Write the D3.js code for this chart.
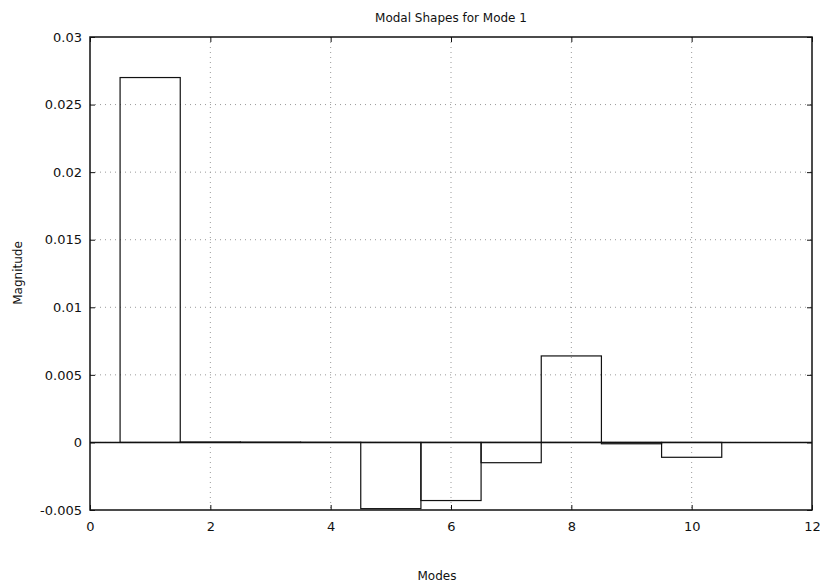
<!DOCTYPE html>
<html><head><meta charset="utf-8">
<script src="https://cdn.jsdelivr.net/npm/d3@7"></script>
<style>body{margin:0;background:#fff;} text{font-family:"DejaVu Sans",sans-serif;fill:#111;}</style>
</head><body><svg id="c" width="820" height="586"></svg>
<script>
const modes = [1,2,3,4,5,6,7,8,9,10,11];
const magnitudes = [0.0270, 0.00003, 0.00002, 0.00001, -0.0049, -0.0043, -0.0015, 0.0064, -0.0001, -0.0011, 0.0];
const xTicks = [0,2,4,6,8,10,12];
const yTicks = [-0.005,0,0.005,0.01,0.015,0.02,0.025,0.03];
const yTickLabels = ["-0.005","0","0.005","0.01","0.015","0.02","0.025","0.03"];

const svg = d3.select("#c");
const L=90, R=812, T=37, B=510;
const x = d3.scaleLinear().domain([0,12]).range([L,R]);
const y = d3.scaleLinear().domain([-0.005,0.03]).range([B,T]);

// grid
const g = svg.append("g");
g.selectAll(".gx").data(xTicks.slice(1,-1)).enter().append("line")
  .attr("x1",d=>x(d)).attr("x2",d=>x(d)).attr("y1",T).attr("y2",B)
  .attr("stroke","#999").attr("stroke-width",1).attr("stroke-dasharray","1,4");
g.selectAll(".gy").data(yTicks.slice(1,-1)).enter().append("line")
  .attr("y1",d=>y(d)).attr("y2",d=>y(d)).attr("x1",L).attr("x2",R)
  .attr("stroke","#999").attr("stroke-width",1).attr("stroke-dasharray","1,4");

// bars
svg.selectAll(".bar").data(modes).enter().append("rect")
  .attr("x",(d)=>x(d-0.5)).attr("width",x(1)-x(0))
  .attr("y",(d,i)=>y(Math.max(0,magnitudes[i])))
  .attr("height",(d,i)=>Math.abs(y(magnitudes[i])-y(0)))
  .attr("fill","none").attr("stroke","#111").attr("stroke-width",1.2);

// zero line
svg.append("line").attr("x1",L).attr("x2",R).attr("y1",y(0)).attr("y2",y(0))
  .attr("stroke","#111").attr("stroke-width",1.5);

// box
svg.append("rect").attr("x",L).attr("y",T).attr("width",R-L).attr("height",B-T)
  .attr("fill","none").attr("stroke","#111").attr("stroke-width",1.5);

// axes with inward ticks
const xb = svg.append("g").attr("transform",`translate(0,${B})`)
  .call(d3.axisBottom(x).tickValues(xTicks).tickSizeInner(-5).tickSizeOuter(0).tickPadding(12));
const xt = svg.append("g").attr("transform",`translate(0,${T})`)
  .call(d3.axisTop(x).tickValues(xTicks).tickSizeInner(-5).tickSizeOuter(0).tickFormat(""));
const yl = svg.append("g").attr("transform",`translate(${L},0)`)
  .call(d3.axisLeft(y).tickValues(yTicks).tickSizeInner(-5).tickSizeOuter(0).tickPadding(8)
    .tickFormat((d,i)=>yTickLabels[i]));
const yr = svg.append("g").attr("transform",`translate(${R},0)`)
  .call(d3.axisRight(y).tickValues(yTicks).tickSizeInner(-5).tickSizeOuter(0).tickFormat(""));
[xb,xt,yl,yr].forEach(a=>{a.select(".domain").remove(); a.selectAll("line").attr("stroke","#111");});
svg.selectAll(".tick text").style("font-size","13px").style("font-family","'DejaVu Sans',sans-serif");

svg.append("text").attr("x",(L+R)/2).attr("y",22).attr("text-anchor","middle")
  .style("font-size","12px").text("Modal Shapes for Mode 1");
svg.append("text").attr("x",437).attr("y",580).attr("text-anchor","middle")
  .style("font-size","12px").text("Modes");
svg.append("text").attr("transform","translate(22,273) rotate(-90)").attr("text-anchor","middle")
  .style("font-size","12px").text("Magnitude");
</script></body></html>
